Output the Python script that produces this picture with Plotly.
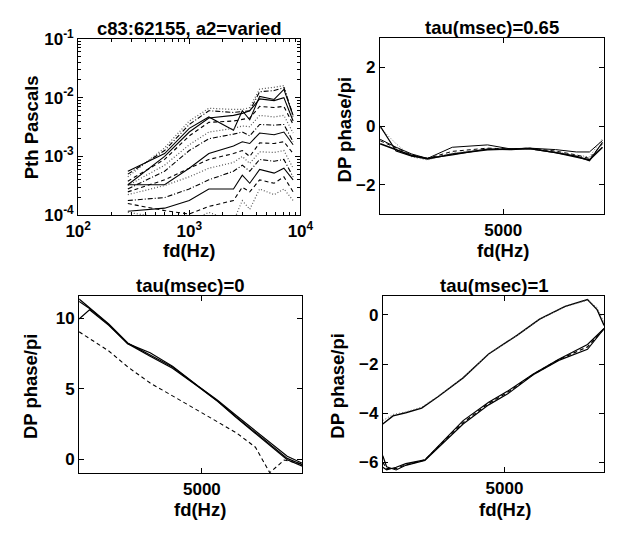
import plotly.graph_objects as go

# ---------------- data ----------------
# top-left: Pth (Pascals) vs fd (Hz), one curve per a2 level
fd_pth = [280, 600, 1000, 1500, 2500, 3000, 3500, 4300, 5800, 7100, 8600]
pth_curves = [
    [4.5e-4, 1.4e-3, 4.0e-3, 6.6e-3, 6.3e-3, 6.3e-3, 6.8e-3, 1.4e-2, 1.5e-2, 1.6e-2, 4.5e-3],
    [5.0e-4, 1.26e-3, 3.5e-3, 6.0e-3, 5.6e-3, 5.9e-3, 6.0e-3, 1.26e-2, 1.32e-2, 1.48e-2, 5.0e-3],
    [5.6e-4, 1.12e-3, 3.0e-3, 4.7e-3, 2.8e-3, 6.0e-3, 4.2e-3, 1.05e-2, 9.3e-3, 1.38e-2, 5.0e-3],
    [3.3e-4, 1.0e-3, 2.6e-3, 4.5e-3, 5.0e-3, 5.4e-3, 6.0e-3, 9.5e-3, 8.9e-3, 1.0e-2, 4.0e-3],
    [3.8e-4, 8.9e-4, 2.24e-3, 3.8e-3, 4.0e-3, 4.2e-3, 4.5e-3, 7.1e-3, 6.8e-3, 7.1e-3, 3.5e-3],
    [3.2e-4, 7.1e-4, 1.58e-3, 2.6e-3, 3.0e-3, 3.3e-3, 3.2e-3, 5.0e-3, 4.7e-3, 5.0e-3, 2.5e-3],
    [2.8e-4, 5.6e-4, 1.26e-3, 2.0e-3, 2.4e-3, 2.6e-3, 2.24e-3, 3.5e-3, 3.4e-3, 3.5e-3, 1.78e-3],
    [3.3e-4, 3.3e-4, 6.3e-4, 1.12e-3, 1.51e-3, 1.78e-3, 1.66e-3, 2.5e-3, 2.34e-3, 2.6e-3, 1.58e-3],
    [2.5e-4, 4.0e-4, 6.3e-4, 8.9e-4, 1.12e-3, 1.26e-3, 1.0e-3, 1.7e-3, 1.66e-3, 1.78e-3, 1.12e-3],
    [2.24e-4, 3.2e-4, 4.5e-4, 6.3e-4, 7.9e-4, 1.0e-3, 7.6e-4, 1.2e-3, 1.17e-3, 1.26e-3, 6.3e-4],
    [1.78e-4, 2.0e-4, 2.8e-4, 4.0e-4, 5.6e-4, 7.1e-4, 5.6e-4, 8.9e-4, 8.3e-4, 8.9e-4, 4.5e-4],
    [1.17e-4, 1.32e-4, 1.78e-4, 2.8e-4, 2.8e-4, 4.8e-4, 3.5e-4, 6.0e-4, 5.2e-4, 6.3e-4, 4.0e-4],
    [1.58e-4, 1.2e-4, 1.05e-4, 1.41e-4, 1.78e-4, 3.0e-4, 2.5e-4, 4.0e-4, 3.5e-4, 4.5e-4, 2.5e-4],
    [1.12e-4, 8.9e-5, 7.9e-5, 1.12e-4, 7.9e-5, 1.78e-4, 1.26e-4, 2.8e-4, 2.24e-4, 2.8e-4, 1.78e-4],
]
pth_styles = ["dot", "dashdot", "solid", "solid", "dash", "dot", "dashdot",
              "solid", "dash", "dot", "dashdot", "solid", "dash", "dot"]

# top-right: tau = 0.65 ms
fd_tr = [290, 900, 1500, 2100, 3050, 4400, 5300, 6000, 7000, 7800, 8300, 8800]
tr_curves = [
    [-0.45, -0.72, -0.95, -1.10, -0.72, -0.64, -0.78, -0.75, -0.80, -0.88, -0.88, -0.49],
    [-0.60, -0.80, -1.00, -1.12, -0.95, -0.80, -0.78, -0.76, -0.90, -1.04, -1.15, -0.72],
    [-0.50, -0.75, -0.98, -1.10, -0.86, -0.75, -0.78, -0.75, -0.85, -0.98, -1.10, -0.60],
    [-0.06, -0.60, -1.05, -1.15, -0.92, -0.78, -0.80, -0.78, -0.88, -1.00, -1.05, -0.42],
    [0.00, -0.85, -1.02, -1.10, -0.98, -0.78, -0.80, -0.77, -0.90, -1.02, -1.18, -0.55],
]
tr_styles = ["solid", "solid", "dash", "dot", "solid"]
tr_widths = [1, 1.6, 1, 1, 1.2]

# bottom-left: tau = 0
fd_bl = [280, 680, 1420, 2150, 3010, 3870, 4850, 5590, 6320, 7060, 7670, 8280, 8860]
bl_curves = [
    [11.37, 10.75, 9.60, 8.25, 7.40, 6.54, 5.17, 4.15, 3.00, 1.87, 0.96, 0.05, -0.40],
    [11.20, 10.70, 9.55, 8.20, 7.55, 6.60, 5.20, 4.20, 3.10, 2.00, 1.15, 0.20, -0.30],
    [9.95, 10.60, 9.50, 8.20, 7.30, 6.45, 5.15, 4.12, 2.95, 1.80, 0.90, -0.05, -0.50],
]
bl_styles = ["solid", "solid", "solid"]
fd_bl_dash = [280, 930, 1420, 2155, 3013, 3871, 4607, 5587, 6323, 7058, 7610, 8161, 8860]
bl_dash = [9.04, 8.25, 7.68, 6.54, 5.40, 4.49, 3.69, 2.67, 1.87, 0.84, -0.97, -0.07, -0.35]

# bottom-right: tau = 1
fd_br_up = [280, 676, 1170, 1788, 2406, 3395, 4384, 5497, 6360, 7350, 8217, 8587, 8860]
br_up = [
    [-4.44, -4.11, -3.98, -3.79, -3.34, -2.56, -1.59, -0.82, -0.17, 0.35, 0.63, 0.22, -0.43],
    [-4.30, -4.05, -3.95, -3.75, -3.32, -2.55, -1.60, -0.83, -0.18, 0.33, 0.60, 0.30, -0.30],
]
br_up_styles = ["solid", "dot"]
fd_br_lo = [280, 428, 799, 1170, 1912, 2777, 3395, 4384, 5126, 6114, 7103, 8217, 8860]
br_lo = [
    [-5.73, -6.18, -6.31, -6.12, -5.92, -5.08, -4.44, -3.66, -3.21, -2.43, -1.85, -1.40, -0.56],
    [-6.20, -6.30, -6.20, -6.05, -5.90, -4.95, -4.30, -3.55, -3.10, -2.40, -1.80, -1.20, -0.55],
    [-6.00, -6.25, -6.25, -6.10, -5.90, -5.02, -4.38, -3.60, -3.15, -2.42, -1.82, -1.30, -0.56],
]
br_lo_styles = ["solid", "solid", "dash"]

titles = ["c83:62155, a2=varied", "tau(msec)=0.65", "tau(msec)=0", "tau(msec)=1"]

# ---------------- figure ----------------
W, H = 619, 533
FONT = "Liberation Sans"
DASH = {"solid": "solid", "dash": "4px,3px", "dot": "1px,2px", "dashdot": "5px,2px,1px,2px"}
fig = go.Figure()


def add(x, y, xa, ya, dash="solid", width=1.0, color="black"):
    fig.add_trace(go.Scatter(x=x, y=y, mode="lines", xaxis=xa, yaxis=ya,
                             line=dict(color=color, width=width, dash=DASH[dash]),
                             showlegend=False, hoverinfo="skip"))


for c, s in zip(pth_curves, pth_styles):
    add(fd_pth, c, "x", "y", s, 1.1 if s != "dot" else 1.2,
        "black" if s != "dot" else "#555")
for c, s, w in zip(tr_curves, tr_styles, tr_widths):
    add(fd_tr, c, "x2", "y2", s, w, "black" if s != "dot" else "#666")
for c, s in zip(bl_curves, bl_styles):
    add(fd_bl, c, "x3", "y3", s, 1.2)
add(fd_bl_dash, bl_dash, "x3", "y3", "dash", 1.1)
for c, s in zip(br_up, br_up_styles):
    add(fd_br_up, c, "x4", "y4", s, 1.4 if s == "solid" else 1.0,
        "black" if s != "dot" else "#666")
for c, s in zip(br_lo, br_lo_styles):
    add(fd_br_lo, c, "x4", "y4", s, 1.2)


def px_dom_x(a, b):
    return [a / W, b / W]


def px_dom_y(top, bot):
    return [1 - bot / H, 1 - top / H]


FS = 17
tickfont = dict(family=FONT, size=FS, color="black", weight="bold")
common = dict(showline=True, linecolor="black", linewidth=1, mirror="ticks",
              ticks="inside", ticklen=5, tickcolor="black", tickwidth=1,
              showgrid=False, zeroline=False, tickfont=tickfont)

minor_x = [200, 300, 400, 500, 600, 700, 800, 900,
           2000, 3000, 4000, 5000, 6000, 7000, 8000, 9000]
minor_y = []
for dec in [1e-4, 1e-3, 1e-2]:
    for m in range(2, 10):
        minor_y.append(m * dec)

fig.update_layout(
    width=W, height=H, margin=dict(l=0, r=0, t=0, b=0),
    paper_bgcolor="white", plot_bgcolor="white",
    font=dict(family=FONT, color="black"),
    xaxis=dict(domain=px_dom_x(68, 300), anchor="y", type="log", range=[2, 4],
               tickmode="array", tickvals=[100, 1000, 10000],
               ticktext=["10<sup>2</sup>", "10<sup>3</sup>", "10<sup>4</sup>"],
               minor=dict(tickmode="array", tickvals=minor_x, ticks="inside",
                          ticklen=3, tickcolor="black", showgrid=False),
               **common),
    yaxis=dict(domain=px_dom_y(28, 212), anchor="x", type="log", range=[-4, -1],
               tickmode="array", tickvals=[1e-4, 1e-3, 1e-2, 1e-1],
               ticktext=["10<sup>-4</sup>", "10<sup>-3</sup>", "10<sup>-2</sup>", "10<sup>-1</sup>"],
               minor=dict(tickmode="array", tickvals=minor_y, ticks="inside",
                          ticklen=3, tickcolor="black", showgrid=False),
               **common),
    xaxis2=dict(domain=px_dom_x(383, 617), anchor="y2", range=[280, 8860],
                tickmode="array", tickvals=[5000], ticktext=["5000"], **common),
    yaxis2=dict(domain=px_dom_y(27, 211), anchor="x2", range=[-3, 3],
                tickmode="array", tickvals=[-2, 0, 2], **common),
    xaxis3=dict(domain=px_dom_x(69, 302), anchor="y3", range=[280, 8860],
                tickmode="array", tickvals=[5000], ticktext=["5000"], **common),
    yaxis3=dict(domain=px_dom_y(296, 481), anchor="x3", range=[-1.0, 11.6],
                tickmode="array", tickvals=[0, 5, 10], **common),
    xaxis4=dict(domain=px_dom_x(386, 617), anchor="y4", range=[280, 8860],
                tickmode="array", tickvals=[5000], ticktext=["5000"], **common),
    yaxis4=dict(domain=px_dom_y(296, 480), anchor="x4", range=[-6.4, 0.78],
                tickmode="array", tickvals=[-6, -4, -2, 0], **common),
)

lab = dict(family=FONT, size=18.5, color="black", weight="bold")


def ann(text, x, y, angle=0):
    fig.add_annotation(text=text, x=x / W, y=1 - y / H, xref="paper", yref="paper",
                       showarrow=False, font=lab, textangle=angle,
                       xanchor="center", yanchor="middle")


ann(titles[0], 184, 17)
ann(titles[1], 500, 16)
ann(titles[2], 185, 285)
ann(titles[3], 502, 285)
ann("fd(Hz)", 184, 249)
ann("fd(Hz)", 512, 249)
ann("fd(Hz)", 195, 519)
ann("fd(Hz)", 514, 519)
ann("Pth Pascals", 19, 120, -90)
ann("DP phase/pi", 347, 122, -90)
ann("DP phase/pi", 19, 390, -90)
ann("DP phase/pi", 339, 390, -90)

fig.write_html("out.html")
